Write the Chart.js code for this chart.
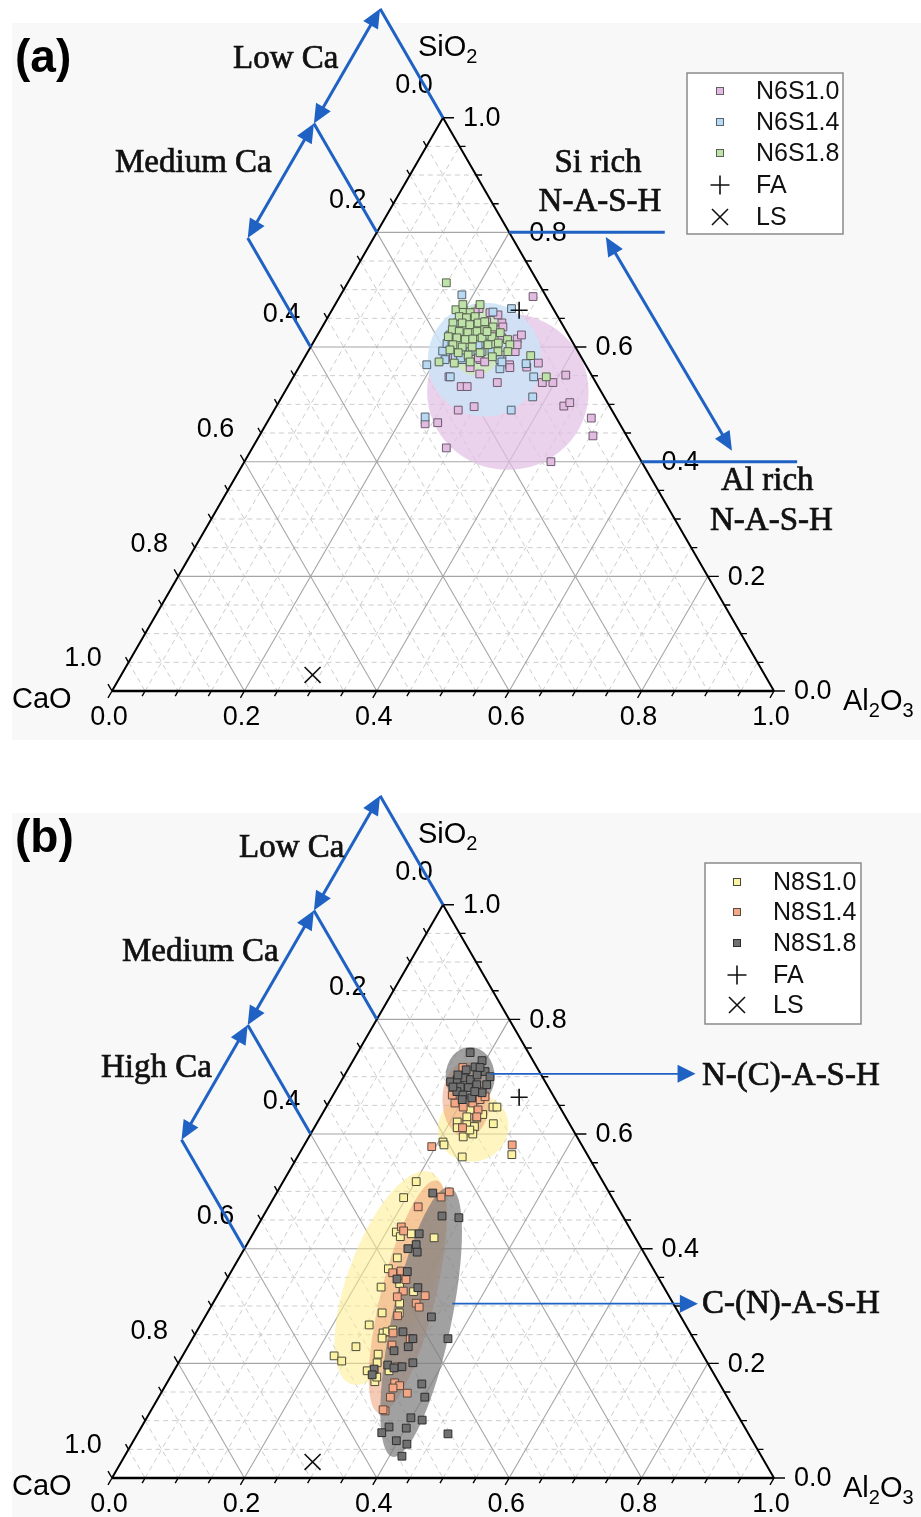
<!DOCTYPE html>
<html>
<head>
<meta charset="utf-8">
<title>CaO–SiO2–Al2O3 ternary diagrams</title>
<script src="https://cdn.jsdelivr.net/npm/chart.js@4.4.1/dist/chart.umd.min.js"></script>
<style>
  html, body { margin: 0; padding: 0; background: #ffffff; overflow: hidden; }
  .panel { position: absolute; left: 0; width: 921px; }
  #panelA { top: 0; height: 780px; }
  #panelB { top: 787px; height: 730px; }
</style>
</head>
<body>
<div class="panel" id="panelA"><canvas id="chartA"></canvas></div>
<div class="panel" id="panelB"><canvas id="chartB"></canvas></div>
<script>
// Compositions as [SiO2, Al2O3] fractions; CaO = 1 - SiO2 - Al2O3
const N6S10 = [[0.688,0.292],[0.614,0.305],[0.621,0.308],[0.592,0.313],[0.565,0.344],[0.572,0.358],[0.569,0.316],[0.551,0.410],[0.538,0.381],[0.538,0.397],[0.538,0.313],[0.553,0.279],[0.531,0.262],[0.531,0.271],[0.548,0.235],[0.490,0.278],[0.496,0.299],[0.468,0.258],[0.466,0.240],[0.424,0.293],[0.497,0.434],[0.503,0.440],[0.476,0.486],[0.445,0.504],[0.400,0.463],[0.642,0.268],[0.667,0.221],[0.660,0.241],[0.578,0.267],[0.586,0.296],[0.656,0.255],[0.644,0.244],[0.630,0.267],[0.635,0.273],[0.625,0.262],[0.616,0.281],[0.581,0.263],[0.564,0.259],[0.604,0.310],[0.564,0.319],[0.661,0.218],[0.581,0.225],[0.574,0.276]];
const N6S14 = [[0.691,0.183],[0.667,0.270],[0.569,0.191],[0.548,0.237],[0.562,0.305],[0.571,0.340],[0.548,0.363],[0.513,0.379],[0.490,0.358],[0.478,0.234],[0.593,0.203],[0.606,0.203],[0.621,0.200],[0.642,0.202],[0.661,0.245],[0.578,0.297],[0.578,0.240],[0.592,0.263],[0.607,0.264],[0.592,0.245],[0.583,0.227],[0.578,0.214],[0.592,0.278],[0.574,0.302],[0.581,0.236],[0.609,0.209],[0.604,0.251]];
const N6S18 = [[0.712,0.149],[0.574,0.207],[0.572,0.231],[0.585,0.340],[0.548,0.382],[0.665,0.187],[0.665,0.198],[0.660,0.211],[0.653,0.198],[0.651,0.210],[0.653,0.222],[0.642,0.194],[0.642,0.208],[0.639,0.221],[0.642,0.232],[0.644,0.241],[0.630,0.199],[0.627,0.211],[0.625,0.225],[0.627,0.238],[0.630,0.248],[0.635,0.258],[0.618,0.199],[0.616,0.213],[0.613,0.227],[0.614,0.238],[0.616,0.251],[0.618,0.265],[0.625,0.274],[0.604,0.213],[0.600,0.229],[0.600,0.244],[0.604,0.266],[0.607,0.280],[0.613,0.291],[0.590,0.228],[0.586,0.245],[0.590,0.261],[0.592,0.287],[0.574,0.254],[0.595,0.213],[0.583,0.283],[0.604,0.299],[0.592,0.302],[0.627,0.253],[0.674,0.193],[0.674,0.219]];

const N8S10 = [[0.647,0.252],[0.647,0.258],[0.642,0.220],[0.628,0.237],[0.621,0.211],[0.620,0.226],[0.613,0.241],[0.618,0.267],[0.595,0.233],[0.600,0.245],[0.586,0.207],[0.581,0.211],[0.560,0.249],[0.564,0.322],[0.607,0.237],[0.611,0.216],[0.630,0.221],[0.634,0.243],[0.517,0.201],[0.489,0.196],[0.429,0.215],[0.421,0.225],[0.426,0.239],[0.419,0.277],[0.384,0.239],[0.365,0.235],[0.333,0.240],[0.339,0.265],[0.325,0.293],[0.305,0.282],[0.288,0.264],[0.288,0.290],[0.267,0.255],[0.253,0.283],[0.255,0.288],[0.244,0.286],[0.258,0.295],[0.229,0.254],[0.213,0.229],[0.204,0.245],[0.216,0.294],[0.187,0.292],[0.168,0.313],[0.176,0.312],[0.187,0.325],[0.201,0.300]];
const N8S14 = [[0.716,0.172],[0.654,0.191],[0.647,0.207],[0.654,0.218],[0.674,0.222],[0.660,0.226],[0.642,0.232],[0.665,0.231],[0.611,0.224],[0.578,0.194],[0.581,0.314],[0.630,0.236],[0.668,0.180],[0.499,0.260],[0.490,0.252],[0.473,0.226],[0.438,0.218],[0.431,0.225],[0.358,0.245],[0.361,0.256],[0.346,0.271],[0.326,0.277],[0.316,0.273],[0.305,0.307],[0.298,0.315],[0.318,0.314],[0.283,0.290],[0.253,0.298],[0.232,0.307],[0.243,0.329],[0.194,0.334],[0.166,0.344],[0.161,0.354],[0.157,0.346],[0.148,0.372],[0.141,0.350],[0.117,0.354],[0.119,0.350]];
const N8S18 = [[0.742,0.170],[0.728,0.195],[0.717,0.190],[0.709,0.209],[0.700,0.221],[0.691,0.166],[0.695,0.174],[0.698,0.184],[0.695,0.194],[0.703,0.200],[0.682,0.185],[0.681,0.198],[0.686,0.208],[0.686,0.223],[0.674,0.184],[0.668,0.196],[0.663,0.212],[0.660,0.199],[0.672,0.223],[0.682,0.174],[0.674,0.211],[0.712,0.179],[0.703,0.171],[0.716,0.198],[0.497,0.236],[0.457,0.270],[0.454,0.297],[0.426,0.251],[0.407,0.256],[0.400,0.247],[0.394,0.264],[0.360,0.266],[0.347,0.257],[0.332,0.296],[0.281,0.342],[0.255,0.312],[0.243,0.333],[0.229,0.333],[0.243,0.386],[0.222,0.315],[0.201,0.354],[0.197,0.318],[0.194,0.341],[0.192,0.330],[0.190,0.301],[0.180,0.303],[0.164,0.386],[0.141,0.402],[0.105,0.399],[0.101,0.418],[0.089,0.374],[0.087,0.401],[0.079,0.368],[0.077,0.469],[0.065,0.397],[0.059,0.416],[0.038,0.419]];

const FA = [[0.664, 0.283]];
const LS = [[0.028, 0.289]];

const TICKS = [0, 0.2, 0.4, 0.6, 0.8, 1.0];
const TICK_LABELS = ['0.0', '0.2', '0.4', '0.6', '0.8', '1.0'];
const MINOR_STEP = 0.05;

// ---- geometry ----
const SQ3_2 = Math.sqrt(3) / 2;
const tern = (si, al) => ({ x: al + si / 2, y: si * SQ3_2 });
const SIDE_PX = 662, ORIGIN_X = 112, ORIGIN_Y = 691, PAGE_W = 921;

const SANS = '"Liberation Sans", Arial, sans-serif';
const SERIF = '"Liberation Serif", "Times New Roman", serif';
const BLUE = '#1f62c4';

function pix(chart, si, al) {
  const c = tern(si, al);
  return [chart.scales.x.getPixelForValue(c.x), chart.scales.y.getPixelForValue(c.y)];
}
function unitPx(chart) {
  return chart.scales.x.getPixelForValue(1) - chart.scales.x.getPixelForValue(0);
}

function minorValues() {
  const out = [];
  for (let i = 1; i < Math.round(1 / MINOR_STEP); i++) {
    const v = +(i * MINOR_STEP).toFixed(3);
    if (!TICKS.some(t => Math.abs(t - v) < 1e-6)) out.push(v);
  }
  return out;
}

function strokeGrid(chart, vals, color, width, dash) {
  const ctx = chart.ctx;
  ctx.save();
  ctx.strokeStyle = color; ctx.lineWidth = width; ctx.setLineDash(dash);
  ctx.beginPath();
  for (const v of vals) {
    let a = pix(chart, v, 0), b = pix(chart, v, 1 - v);          // constant SiO2
    ctx.moveTo(a[0], a[1]); ctx.lineTo(b[0], b[1]);
    a = pix(chart, 0, v); b = pix(chart, 1 - v, v);              // constant Al2O3
    ctx.moveTo(a[0], a[1]); ctx.lineTo(b[0], b[1]);
    a = pix(chart, 1 - v, 0); b = pix(chart, 0, 1 - v);          // constant CaO
    ctx.moveTo(a[0], a[1]); ctx.lineTo(b[0], b[1]);
  }
  ctx.stroke();
  ctx.restore();
}

function arrow(ctx, a, b, o) {
  const dx = b[0] - a[0], dy = b[1] - a[1], L = Math.hypot(dx, dy);
  const ux = dx / L, uy = dy / L, nx = -uy, ny = ux;
  const s = o.start ? [a[0] + ux * o.head * 0.7, a[1] + uy * o.head * 0.7] : a;
  const e = o.end ? [b[0] - ux * o.head * 0.7, b[1] - uy * o.head * 0.7] : b;
  ctx.save();
  ctx.strokeStyle = o.color; ctx.fillStyle = o.color; ctx.lineWidth = o.width; ctx.lineCap = 'butt';
  ctx.beginPath(); ctx.moveTo(s[0], s[1]); ctx.lineTo(e[0], e[1]); ctx.stroke();
  const headAt = (tip, dir) => {
    const bx = tip[0] - dir * ux * o.head, by = tip[1] - dir * uy * o.head;
    ctx.beginPath();
    ctx.moveTo(tip[0], tip[1]);
    ctx.lineTo(bx + nx * o.headW / 2, by + ny * o.headW / 2);
    ctx.lineTo(bx - nx * o.headW / 2, by - ny * o.headW / 2);
    ctx.closePath(); ctx.fill();
  };
  if (o.end) headAt(b, 1);
  if (o.start) headAt(a, -1);
  ctx.restore();
}

function subText(ctx, parts, x, y, size) {
  let cx = x;
  ctx.textAlign = 'left'; ctx.textBaseline = 'alphabetic';
  for (const [t, sub] of parts) {
    ctx.font = `${sub ? Math.round(size * 0.68) : size}px ${SANS}`;
    ctx.fillText(t, cx, sub ? y + size * 0.24 : y);
    cx += ctx.measureText(t).width;
  }
}

function drawMarker(ctx, ds, x, y, legendSize) {
  ctx.save();
  ctx.strokeStyle = ds.borderColor; ctx.fillStyle = ds.backgroundColor; ctx.lineWidth = ds.borderWidth;
  if (ds.pointStyle === 'rect') {
    const h = legendSize / 2;
    ctx.fillRect(x - h, y - h, 2 * h, 2 * h);
    ctx.strokeRect(x - h, y - h, 2 * h, 2 * h);
  } else if (ds.pointStyle === 'cross') {
    ctx.beginPath();
    ctx.moveTo(x - 9.5, y); ctx.lineTo(x + 9.5, y);
    ctx.moveTo(x, y - 9.5); ctx.lineTo(x, y + 9.5);
    ctx.stroke();
  } else {
    ctx.beginPath();
    ctx.moveTo(x - 8, y - 8); ctx.lineTo(x + 8, y + 8);
    ctx.moveTo(x + 8, y - 8); ctx.lineTo(x - 8, y + 8);
    ctx.stroke();
  }
  ctx.restore();
}

const ternaryPlugin = {
  id: 'ternary',
  beforeDraw(chart, args, opts) {
    const ctx = chart.ctx, b = opts.panelBox;
    ctx.save();
    ctx.fillStyle = '#ffffff'; ctx.fillRect(0, 0, chart.width, chart.height);
    ctx.fillStyle = '#f8f8f8'; ctx.fillRect(b[0], b[1], b[2] - b[0], b[3] - b[1]);
    ctx.restore();
  },
  beforeDatasetsDraw(chart, args, opts) {
    const ctx = chart.ctx;
    const T = pix(chart, 1, 0), Lc = pix(chart, 0, 0), R = pix(chart, 0, 1);
    ctx.save();
    ctx.fillStyle = '#ffffff';
    ctx.beginPath(); ctx.moveTo(T[0], T[1]); ctx.lineTo(Lc[0], Lc[1]); ctx.lineTo(R[0], R[1]); ctx.closePath(); ctx.fill();
    ctx.restore();
    strokeGrid(chart, minorValues(), '#cdcdcd', 1, [5, 4]);
    strokeGrid(chart, TICKS.slice(1, -1), '#a6a6a6', 1.1, []);
    // shaded composition regions
    const u = unitPx(chart);
    for (const e of opts.regions) {
      const c = pix(chart, e.si, e.al);
      ctx.save();
      ctx.fillStyle = e.fill;
      ctx.beginPath();
      ctx.ellipse(c[0], c[1], e.rx * u, e.ry * u, (e.rot || 0) * Math.PI / 180, 0, 2 * Math.PI);
      ctx.fill();
      ctx.restore();
    }
  },
  afterDatasetsDraw(chart, args, opts) {
    const ctx = chart.ctx;
    const T = pix(chart, 1, 0), Lc = pix(chart, 0, 0), R = pix(chart, 0, 1);
    ctx.save();
    // axes
    ctx.strokeStyle = '#000'; ctx.lineWidth = 2; ctx.lineJoin = 'miter';
    ctx.beginPath(); ctx.moveTo(Lc[0], Lc[1]); ctx.lineTo(T[0], T[1]); ctx.lineTo(R[0], R[1]); ctx.stroke();
    ctx.lineWidth = 2.6;
    ctx.beginPath(); ctx.moveTo(Lc[0], Lc[1]); ctx.lineTo(R[0], R[1]); ctx.stroke();
    // ticks
    ctx.lineWidth = 1.4;
    ctx.beginPath();
    const n = Math.round(1 / MINOR_STEP);
    for (let i = 0; i <= n; i++) {
      const v = i * MINOR_STEP, major = TICKS.some(t => Math.abs(t - v) < 1e-6);
      let p = pix(chart, v, 1 - v);                    // SiO2 axis (right)
      const lr = major ? 11 : 6;
      ctx.moveTo(p[0], p[1]); ctx.lineTo(p[0] + lr, p[1]);
      const ls = major ? 8 : 6;
      p = pix(chart, 1 - v, 0);                        // CaO axis (left)
      ctx.moveTo(p[0], p[1]); ctx.lineTo(p[0] - 0.5 * ls, p[1] - SQ3_2 * ls);
      p = pix(chart, 0, v);                            // Al2O3 axis (bottom)
      ctx.moveTo(p[0], p[1]); ctx.lineTo(p[0] - 0.5 * ls, p[1] + SQ3_2 * ls);
    }
    ctx.stroke();
    // tick labels
    ctx.fillStyle = '#000';
    ctx.font = `27px ${SANS}`;
    TICKS.forEach((v, i) => {
      const lab = TICK_LABELS[i];
      let p = pix(chart, 1 - v, 0);
      ctx.textAlign = 'center'; ctx.textBaseline = 'middle';
      ctx.fillText(lab, p[0] - 29, p[1] - 32);
      p = pix(chart, 0, v);
      ctx.fillText(lab, p[0] - 3, p[1] + 27);
      p = pix(chart, v, 1 - v);
      ctx.textAlign = 'left';
      ctx.fillText(lab, p[0] + 20, p[1] + 1);
    });
    // axis titles
    subText(ctx, [['SiO', false], ['2', true]], T[0] - 25, T[1] - 62, 29);
    subText(ctx, [['CaO', false]], Lc[0] - 100, Lc[1] + 17, 29);
    subText(ctx, [['Al', false], ['2', true], ['O', false], ['3', true]], R[0] + 69, R[1] + 19, 29);

    // panel letter
    ctx.fillStyle = '#000';
    ctx.font = `bold 46px ${SANS}`;
    ctx.textAlign = 'left'; ctx.textBaseline = 'alphabetic';
    ctx.fillText(opts.letter.text, opts.letter.x, opts.letter.y);

    // annotation lines and arrows
    const EXT = 0.19;
    for (const c of opts.caBands.levels) {
      arrow(ctx, pix(chart, 1 - c, 0), pix(chart, 1 - c + EXT, -EXT), { color: BLUE, width: 3, head: 0, headW: 0 });
    }
    const lv = opts.caBands.levels;
    for (let i = 0; i < lv.length - 1; i++) {
      arrow(ctx, pix(chart, 1 - lv[i] + EXT, -EXT), pix(chart, 1 - lv[i + 1] + EXT, -EXT),
        { color: BLUE, width: 3, head: 19, headW: 17, start: true, end: true });
    }
    for (const a of opts.arrows) {
      arrow(ctx, pix(chart, a.from[0], a.from[1]), pix(chart, a.to[0], a.to[1]), a.style);
    }
    // serif annotation texts (slightly heavier than the plain face)
    ctx.fillStyle = '#111';
    ctx.strokeStyle = '#111';
    ctx.lineWidth = 0.7;
    ctx.font = `33px ${SERIF}`;
    for (const t of opts.notes) {
      ctx.textAlign = t.align || 'left';
      ctx.fillText(t.text, t.x, t.y);
      ctx.strokeText(t.text, t.x, t.y);
    }

    // legend
    const lg = opts.legend;
    ctx.fillStyle = '#ffffff';
    ctx.fillRect(lg.box[0], lg.box[1], lg.box[2] - lg.box[0], lg.box[3] - lg.box[1]);
    ctx.strokeStyle = '#8a8a8a'; ctx.lineWidth = 1.5;
    ctx.strokeRect(lg.box[0], lg.box[1], lg.box[2] - lg.box[0], lg.box[3] - lg.box[1]);
    ctx.font = `25px ${SANS}`;
    ctx.textAlign = 'left'; ctx.textBaseline = 'middle';
    lg.order.forEach((idx, r) => {
      const ds = chart.data.datasets[idx];
      const y = lg.rows[r];
      drawMarker(ctx, ds, lg.markerX, y, 7);
      ctx.fillStyle = '#111';
      ctx.fillText(ds.label, lg.textX, y + 1);
    });
    ctx.restore();
  }
};

function makePanel(canvasId, height, series, cfg) {
  const datasets = series.map(s => ({
    label: s.label,
    data: s.data.map(([si, al]) => tern(si, al)),
    pointStyle: s.style,
    pointRadius: s.radius,
    pointHoverRadius: s.radius,
    backgroundColor: s.fill,
    borderColor: s.stroke,
    borderWidth: s.lineWidth
  }));
  return new Chart(document.getElementById(canvasId), {
    type: 'scatter',
    data: { datasets },
    options: {
      responsive: true,
      maintainAspectRatio: false,
      devicePixelRatio: 1,
      animation: false,
      events: [],
      layout: { padding: 0, autoPadding: false },
      scales: {
        x: { type: 'linear', display: false, min: -ORIGIN_X / SIDE_PX, max: (PAGE_W - ORIGIN_X) / SIDE_PX },
        y: { type: 'linear', display: false, min: -(height - ORIGIN_Y) / SIDE_PX, max: ORIGIN_Y / SIDE_PX }
      },
      plugins: { legend: { display: false }, tooltip: { enabled: false }, ternary: cfg }
    },
    plugins: [ternaryPlugin]
  });
}

const crossFA = { label: 'FA', data: FA, style: 'cross', radius: 8.5, fill: '#000', stroke: '#111', lineWidth: 1.6 };
const crossLS = { label: 'LS', data: LS, style: 'crossRot', radius: 11.3, fill: '#000', stroke: '#111', lineWidth: 1.6 };

// (a) N6 series
makePanel('chartA', 780, [
  crossFA, crossLS,
  { label: 'N6S1.8', data: N6S18, style: 'rect', radius: 5.5, fill: '#bfe2a9', stroke: '#56624f', lineWidth: 1 },
  { label: 'N6S1.4', data: N6S14, style: 'rect', radius: 5.5, fill: '#b9d8f1', stroke: '#55626f', lineWidth: 1 },
  { label: 'N6S1.0', data: N6S10, style: 'rect', radius: 5.5, fill: '#e2bbe0', stroke: '#6c5a6e', lineWidth: 1 }
], {
  panelBox: [12, 23, 921, 740],
  letter: { text: '(a)', x: 15, y: 72 },
  regions: [
    { si: 0.522, al: 0.337, rx: 0.122, ry: 0.118, fill: 'rgba(226,192,228,0.72)' },
    { si: 0.578, al: 0.274, rx: 0.086, ry: 0.086, fill: 'rgba(204,227,247,0.85)' },
    { si: 0.611, al: 0.244, rx: 0.041, ry: 0.053, fill: 'rgba(206,233,188,0.9)' }
  ],
  caBands: { levels: [0, 0.2, 0.4] },
  arrows: [
    { from: [0.8, 0.2], to: [0.8, 0.435], style: { color: BLUE, width: 3, head: 0, headW: 0 } },
    { from: [0.4, 0.6], to: [0.4, 0.835], style: { color: BLUE, width: 3, head: 0, headW: 0 } },
    { from: [0.792, 0.350], to: [0.419, 0.727], style: { color: BLUE, width: 3, head: 19, headW: 17, start: true, end: true } }
  ],
  notes: [
    { text: 'Low Ca', x: 233, y: 68 },
    { text: 'Medium Ca', x: 115, y: 172 },
    { text: 'Si rich', x: 598, y: 172, align: 'center' },
    { text: 'N-A-S-H', x: 600, y: 211, align: 'center' },
    { text: 'Al rich', x: 721, y: 490 },
    { text: 'N-A-S-H', x: 710, y: 530 }
  ],
  legend: { box: [687, 73, 843, 234], markerX: 720, textX: 756, rows: [91, 122, 153, 185, 217], order: [4, 3, 2, 0, 1] }
});

// (b) N8 series
makePanel('chartB', 730, [
  crossFA, crossLS,
  { label: 'N8S1.8', data: N8S18, style: 'rect', radius: 5.5, fill: '#707070', stroke: '#2e2e2e', lineWidth: 1 },
  { label: 'N8S1.4', data: N8S14, style: 'rect', radius: 5.5, fill: '#f3a785', stroke: '#5e4a40', lineWidth: 1 },
  { label: 'N8S1.0', data: N8S10, style: 'rect', radius: 5.5, fill: '#fbf3a3', stroke: '#4a4a3a', lineWidth: 1 }
], {
  panelBox: [12, 26, 921, 730],
  letter: { text: '(b)', x: 15, y: 65 },
  regions: [
    { si: 0.611, al: 0.240, rx: 0.054, ry: 0.051, rot: -25, fill: 'rgba(255,236,140,0.55)' },
    { si: 0.349, al: 0.246, rx: 0.063, ry: 0.171, rot: 20.7, fill: 'rgba(255,236,140,0.55)' },
    { si: 0.660, al: 0.205, rx: 0.036, ry: 0.057, fill: 'rgba(238,160,120,0.55)' },
    { si: 0.316, al: 0.289, rx: 0.041, ry: 0.181, rot: 14, fill: 'rgba(238,160,120,0.55)' },
    { si: 0.700, al: 0.191, rx: 0.037, ry: 0.045, fill: 'rgba(125,125,125,0.72)' },
    { si: 0.272, al: 0.331, rx: 0.045, ry: 0.208, rot: 12, fill: 'rgba(125,125,125,0.72)' }
  ],
  caBands: { levels: [0, 0.2, 0.4, 0.6] },
  arrows: [
    { from: [0.705, 0.219], to: [0.705, 0.529], style: { color: BLUE, width: 1.8, head: 18, headW: 18, end: true } },
    { from: [0.304, 0.362], to: [0.304, 0.733], style: { color: BLUE, width: 1.8, head: 18, headW: 18, end: true } }
  ],
  notes: [
    { text: 'Low Ca', x: 239, y: 70 },
    { text: 'Medium Ca', x: 122, y: 174 },
    { text: 'High Ca', x: 101, y: 290 },
    { text: 'N-(C)-A-S-H', x: 702, y: 298 },
    { text: 'C-(N)-A-S-H', x: 702, y: 526 }
  ],
  legend: { box: [705, 76, 861, 237], markerX: 737, textX: 773, rows: [95, 125, 156, 188, 218], order: [4, 3, 2, 0, 1] }
});
</script>
</body>
</html>
